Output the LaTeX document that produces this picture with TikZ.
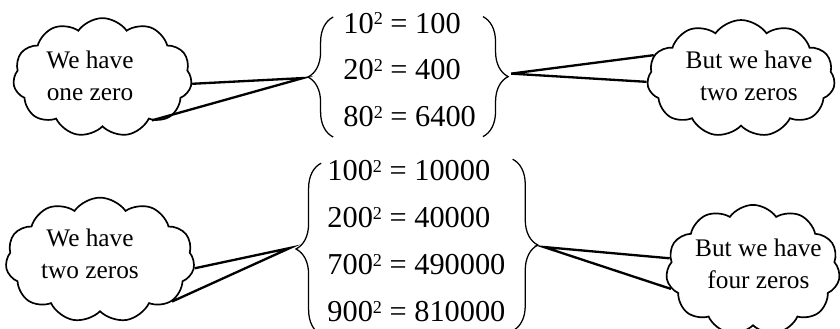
\documentclass[tikz,border=0pt]{standalone}
\usepackage{fontspec}
\setmainfont{Liberation Serif}
\usetikzlibrary{shapes.symbols, decorations.pathreplacing, calc}

% small raised 2 of the squares
\newcommand{\twosup}{\raisebox{3.9pt}{\fontsize{8.6}{9}\selectfont 2}}

\tikzset{
  bubble/.style={cloud, draw, line width=0.8pt, cloud puffs=11, cloud puff arc=110,
                 cloud ignores aspect, inner sep=0pt},
  talk/.style={font=\fontsize{12}{15}\selectfont, align=center, inner sep=0pt},
  sums/.style={font=\fontsize{14.4}{18}\selectfont, inner sep=0pt},
  curly/.style={decorate, decoration={brace, amplitude=0.42cm}, line width=0.6pt},
  pointer/.style={line width=1.1pt, line join=miter},
}

\begin{document}
\begin{tikzpicture}
\useasboundingbox (0,0) rectangle (14,5.467);

 %%Paramaters
%% brace size, can be modified
\def\amp{0.42cm}
\def\topH{1.0cm}
\def\botH{1.43cm}

 %% ***Squares with one zero***
\node[sums, anchor=west] (sq1) at (5.717, 4.29) {\renewcommand{\arraystretch}{1.234}%
  \begin{tabular}{@{}l@{}}
  10\twosup{} = 100\\
  20\twosup{} = 400\\
  80\twosup{} = 6400
  \end{tabular}};

\coordinate (b1l) at ($(sq1.west) + (-0.584, -0.107)$);
\coordinate (b1r) at ($(sq1.east) + (0.53, -0.1)$);
\draw[curly] ($(b1l) + (\amp, -\topH)$) -- ($(b1l) + (\amp, \topH)$);
\draw[curly] ($(b1r) + (-\amp, \topH)$) -- ($(b1r) + (-\amp, -\topH)$);

\node[bubble, minimum width=2.98cm, minimum height=1.98cm] (c1) at (1.708, 4.175) {};
\node[talk] (t1) at (1.5, 4.208) {We have\\one zero};

\node[bubble, minimum width=3.13cm, minimum height=1.95cm] (c2) at (12.35, 4.158) {};
\node[talk] (t2) at (12.483, 4.208) {But we have\\two zeros};

% left pointer
\coordinate (a1l) at ($(b1l) + (-0.083, -0.017)$);
\draw[pointer] (c1.-4) -- (a1l) -- (c1.-41);
% right pointer
\coordinate (a1r) at ($(b1r) + (0.05, 0.05)$);
\draw[pointer] (c2.165.5) -- (a1r) -- (c2.182);

 %% ***Squares with two zeros***
\node[sums, anchor=west] (sq2) at (5.45, 1.44) {\renewcommand{\arraystretch}{1.234}%
  \begin{tabular}{@{}l@{}}
  100\twosup{} = 10000\\
  200\twosup{} = 40000\\
  700\twosup{} = 490000\\
  900\twosup{} = 810000
  \end{tabular}};

\coordinate (b2l) at ($(sq2.west) + (-0.517, -0.123)$);
\coordinate (b2r) at ($(sq2.east) + (0.533, -0.057)$);
\draw[curly] ($(b2l) + (\amp, -\botH)$) -- ($(b2l) + (\amp, \botH)$);
\draw[curly] ($(b2r) + (-\amp, \botH)$) -- ($(b2r) + (-\amp, -\botH)$);

\node[bubble, minimum width=3.15cm, minimum height=2.08cm] (c3) at (1.667, 1.133) {};
\node[talk] (t3) at (1.5, 1.233) {We have\\two zeros};

\node[bubble, minimum width=2.9cm, minimum height=2.17cm] (c4) at (12.55, 0.967) {};
\node[talk] (t4) at (12.64, 1.067) {But we have\\four zeros};

% left pointer
\coordinate (a2l) at ($(b2l) + (-0.1, 0.017)$);
\draw[pointer] (c3.-5.7) -- (a2l) -- (c3.-30.4);
% right pointer
\coordinate (a2r) at ($(b2r) + (0.1, -0.033)$);
\draw[pointer] (c4.172.6) -- (a2r) -- (c4.193.4);
\end{tikzpicture}
\end{document}
